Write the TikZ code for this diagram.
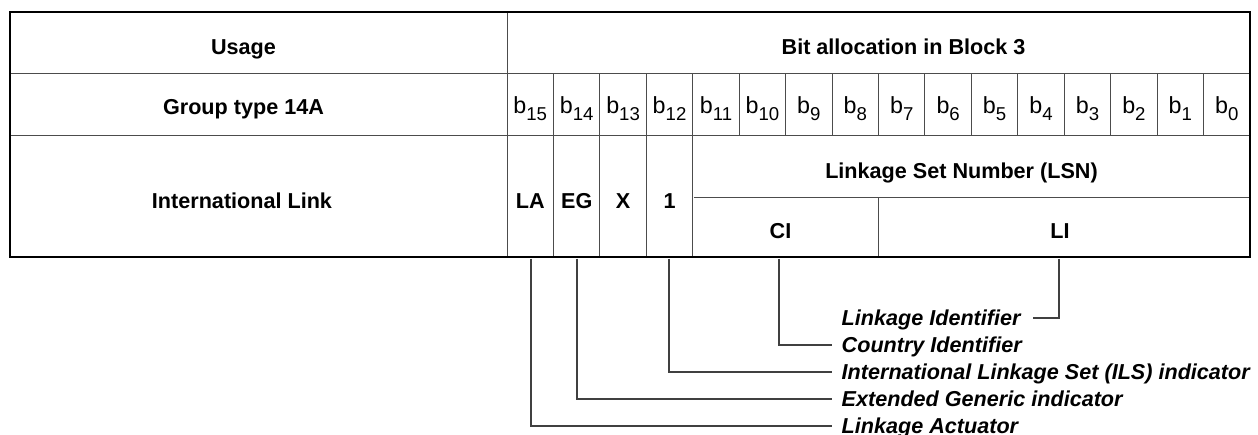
\documentclass[tikz,border=0pt]{standalone}
\usepackage{fontspec}
\setmainfont{Liberation Sans}
\newcommand\bsub[1]{\raisebox{-7.5pt}{\fontsize{18.6}{20}\selectfont #1}}
\begin{document}
\begin{tikzpicture}[x=1pt,y=-1pt,
  gridline/.style={draw=black!70, line width=1pt},
  outerline/.style={draw=black, line width=2.4pt},
  lead/.style={draw=black!75, line width=1.1pt},
  hdr/.style={font=\fontsize{21.6}{26}\selectfont\bfseries, anchor=base, inner sep=0pt},
  lbl/.style={font=\fontsize{21.6}{26}\selectfont\bfseries\itshape, anchor=base west, inner sep=0pt},
  bit/.style={font=\fontsize{23.3}{28}\selectfont, anchor=base, inner sep=0pt}]
\clip (0,0) rectangle (1258,434);
\useasboundingbox (0,0) rectangle (1258,434);
% grid
\draw[gridline] (507,12) -- (507,257);
\draw[gridline] (10,73) -- (1250,73);
\draw[gridline] (10,135) -- (1250,135);
\foreach \k in {1,...,15} \draw[gridline] ({507+46.4375*\k},73) -- ({507+46.4375*\k},135);
\foreach \k in {1,...,4} \draw[gridline] ({507+46.4375*\k},135) -- ({507+46.4375*\k},257);
\draw[gridline] (693.75,197) -- (1250,197);
\draw[gridline] (878.5,197) -- (878.5,257);
\draw[outerline] (10,12) rectangle (1250,257);
% headers
\node[hdr] (usage) at (243.5,54) {Usage};
\node[hdr] (bitalloc) at (903.5,54) {Bit allocation in Block 3};
\node[hdr] (group) at (243.5,114) {Group type 14A};
\node[hdr] (intl) at (242,208) {International Link};
\foreach \k [evaluate=\k as \n using int(15-\k)] in {0,...,15}
  \node[bit] (b\n) at ({507+46.4375*(\k+0.5)},113) {b\bsub{\n}};
\node[hdr] (la) at (530.2,208) {LA};
\node[hdr] (eg) at (576.7,208) {EG};
\node[hdr] (x) at (623.1,208) {X};
\node[hdr] (one) at (669.6,208) {1};
\node[hdr] (lsn) at (961.5,178) {Linkage Set Number (LSN)};
\node[hdr] (ci) at (780.5,238) {CI};
\node[hdr] (li) at (1060,238) {LI};
% labels
\node[lbl] (lLI) at (841.5,325) {Linkage Identifier};
\node[lbl] (lCI) at (841.5,352) {Country Identifier};
\node[lbl] (lILS) at (841.5,379) {International Linkage Set (ILS) indicator};
\node[lbl] (lEG) at (841.5,406) {Extended Generic indicator};
\node[lbl] (lLA) at (841.5,433) {Linkage Actuator};
% leader coordinates
\coordinate (liFoot) at (1059,258.5);
\coordinate (liEnd) at (1033,318);
\coordinate (ciFoot) at (779,258.5);
\coordinate (ciEnd) at (832,345);
\coordinate (oneFoot) at (669,258.5);
\coordinate (oneEnd) at (832,372);
\coordinate (egFoot) at (577,258.5);
\coordinate (egEnd) at (832,399);
\coordinate (laFoot) at (531,258.5);
\coordinate (laEnd) at (832,426);
\draw[lead] (liFoot) |- (liEnd);
\draw[lead] (ciFoot) |- (ciEnd);
\draw[lead] (oneFoot) |- (oneEnd);
\draw[lead] (egFoot) |- (egEnd);
\draw[lead] (laFoot) |- (laEnd);
\end{tikzpicture}
\end{document}
